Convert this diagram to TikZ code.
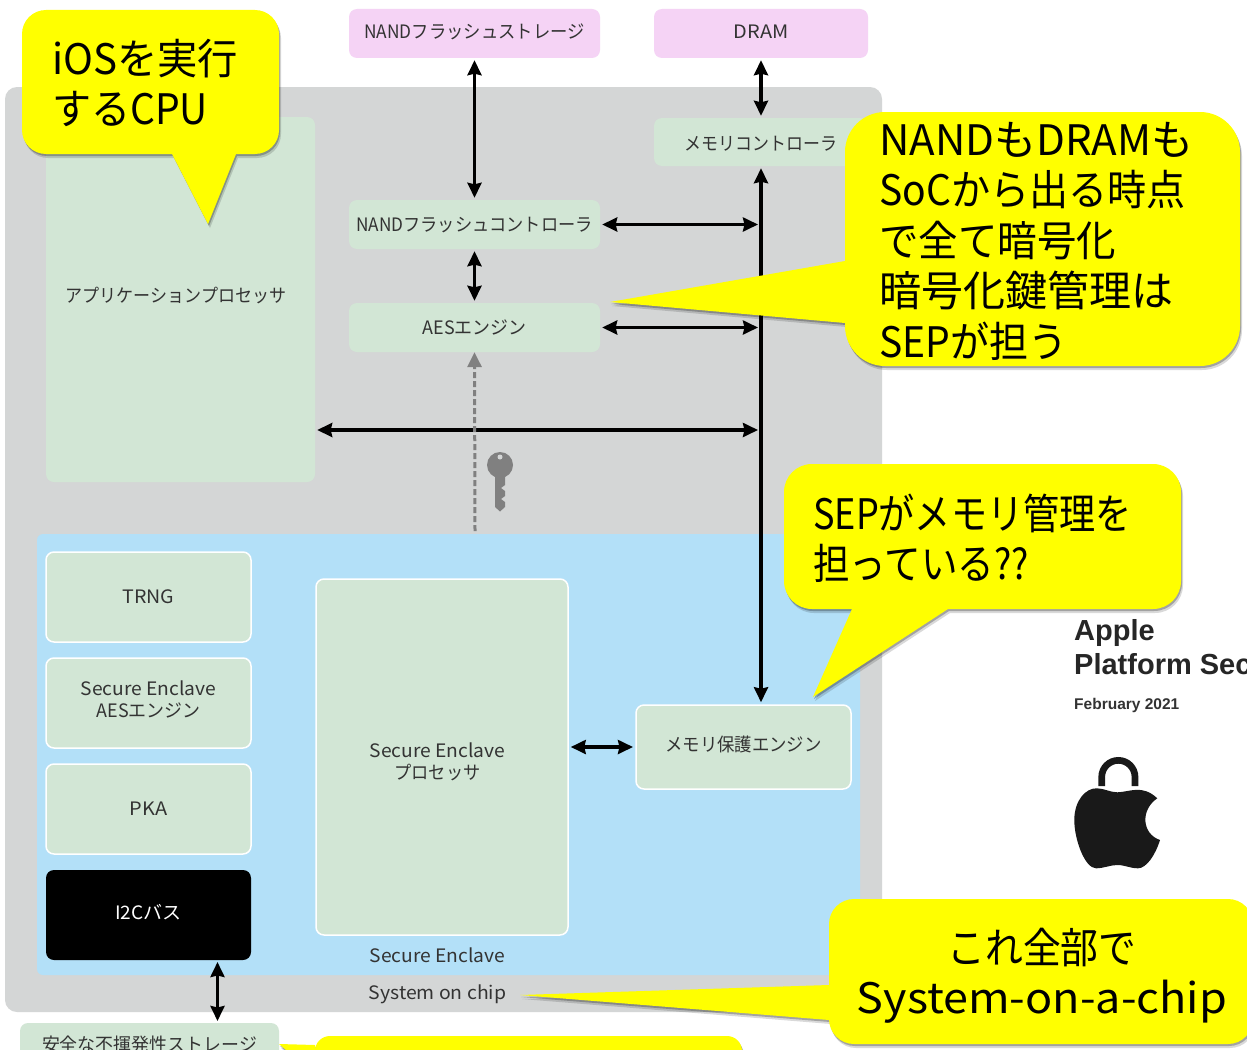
\documentclass[tikz,border=0pt]{standalone}
\usepackage{fontspec}
\usepackage{graphicx}
\setmainfont{Noto Sans CJK JP}
\newfontfamily\titlefont{Liberation Sans}
\usetikzlibrary{arrows.meta,shadows}
\definecolor{socgray}{HTML}{D4D6D6}
\definecolor{boxgreen}{HTML}{D2E6D5}
\definecolor{boxpink}{HTML}{F5D3F5}
\definecolor{seblue}{HTML}{B3E0F8}
\definecolor{keygray}{HTML}{808080}
\definecolor{labelgray}{HTML}{333333}
\definecolor{noteyellow}{HTML}{FFFF00}
\newcommand{\fitline}[2]{\scalebox{#1}[1]{#2}}
\tikzset{
   box text/.style={inner sep=0,align=center,text=labelgray,
      font=\fontsize{18.5}{22}\selectfont},
   label box/.style={box text,rounded corners=8},
   green box/.style={label box,fill=boxgreen},
   pink box/.style={label box,fill=boxpink},
   enclave box/.style={green box,draw=white,line width=1.5},
   link/.style={{Stealth[length=15,width=14,inset=1.5]}-{Stealth[length=15,width=14,inset=1.5]},
      line width=3.2,shorten >=2pt,shorten <=2pt},
   callout/.style={fill=noteyellow,
      drop shadow={shadow xshift=2,shadow yshift=4,opacity=.15,fill=black},
      drop shadow={shadow xshift=1,shadow yshift=2,opacity=.25,fill=black}},
   callout text/.style={inner sep=0,align=left,text=black,font=\fontsize{42}{50.5}\selectfont}
}
\begin{document}
\begin{tikzpicture}[x=1pt,y=-1pt]
   \useasboundingbox (0,0) rectangle (1247,1049);
   \clip (0,0) rectangle (1247,1049);
   \fill[white] (0,0) rectangle (1247,1049);

   \fill[socgray,rounded corners=12] (5,87) rectangle (882,1012);
   \fill[seblue,rounded corners=6] (37,534) rectangle (860,975);

   \node[pink box,minimum width=251,minimum height=49,
      label={[box text,yshift=2]center:\fitline{.936}{NANDフラッシュストレージ}}] (nandstore) at (474.5,33.5) {};
   \node[pink box,minimum width=214,minimum height=49,
      label={[box text,yshift=2]center:\fitline{1.08}{DRAM}}] (dram) at (761,33.5) {};
   \node[green box,minimum width=214,minimum height=48,
      label={[box text,yshift=-2]center:\fitline{.915}{メモリコントローラ}}] (memctrl) at (761,142) {};
   \node[green box,minimum width=269,minimum height=365,
      label={[box text,xshift=-4.5,yshift=4]center:\fitline{.92}{アプリケーションプロセッサ}}] (app) at (180.5,299.5) {};
   \node[green box,minimum width=251,minimum height=49,
      label={[box text,yshift=-1]center:\fitline{.93}{NANDフラッシュコントローラ}}] (nandctrl) at (474.5,224.5) {};
   \node[green box,minimum width=251,minimum height=49] (aes) at (474.5,327.5) {\fitline{.97}{AESエンジン}};

   \node[enclave box,minimum width=205,minimum height=90] (trng) at (148.5,597) {\fitline{1.06}{TRNG}};
   \node[enclave box,minimum width=205,minimum height=90,
      label={[box text,yshift=4]center:\fitline{1.04}{Secure Enclave}\\\fitline{.97}{AESエンジン}}] (seaes) at (148.5,703) {};
   \node[enclave box,minimum width=205,minimum height=90] (pka) at (148.5,809) {\fitline{1.08}{PKA}};
   \node[label box,fill=black,minimum width=205,minimum height=90,
      label={[box text,text=white,yshift=3]center:\fitline{1.03}{I2Cバス}}] (i2c) at (148.5,915) {};
   \node[enclave box,minimum width=252,minimum height=356,
      label={[box text,xshift=-4.5,yshift=-5]center:\fitline{1.04}{Secure Enclave}\\\fitline{.93}{プロセッサ}}] (seproc) at (442,757) {};
   \node[enclave box,minimum width=215,minimum height=84,
      label={[box text,yshift=3]center:\fitline{.94}{メモリ保護エンジン}}] (memprot) at (743.5,747) {};
   \node[green box,minimum width=259,minimum height=42] (store) at (149.5,1044) {\fitline{.97}{安全な不揮発性ストレージ}};

   \node[box text] (selabel) at (437.5,955) {\fitline{1.04}{Secure Enclave}};
   \node[box text] (soclabel) at (437.5,994) {\fitline{1.05}{System on chip}};

   \coordinate (busnand) at (760,224.5);
   \coordinate (busaes) at (760,327.5);
   \coordinate (busapp) at (760,430);
   \coordinate (keyfoot) at (475,531);
   \coordinate (i2cport) at (217.5,960);
   \coordinate (storeport) at (217.5,1023);
   \coordinate (protport) at (635,747);

   \draw[link] (nandstore) -- (nandctrl);
   \draw[link] (dram) -- (memctrl);
   \draw[link] (nandctrl) -- (aes);
   \draw[link] (memctrl.south) -- (memctrl.south |- memprot.north);
   \draw[link] (nandctrl) -- (busnand);
   \draw[link] (aes) -- (busaes);
   \draw[link] (app.east |- busapp) -- (busapp);
   \draw[link] (seproc.east |- protport) -- (protport);
   \draw[link] (i2cport) -- (storeport);
   \draw[keygray,line width=3,dash pattern=on 6pt off 3pt,
      -{Triangle[length=15,width=14]}] (keyfoot) -- (aes.south);

   \fill[keygray] (500,465) circle (13);
   \fill[keygray] (495,470) -- (495,507) -- (500,511.5) -- (505,507) -- (505,502) -- (501,499)
      -- (505,496) -- (505,491) -- (501,488) -- (505,485) -- (505,470) -- cycle;
   \fill[socgray] (500,457) circle (2.5);

   \node[anchor=west,inner sep=0,font=\titlefont\bfseries\fontsize{29}{34.5}\selectfont,align=left,text=black!85] (title) at (1074,650) {Apple\\Platform Security};
   \node[anchor=west,inner sep=0,font=\titlefont\bfseries\fontsize{15.5}{18}\selectfont,text=black!80] (date) at (1074,705) {February 2021};

   \draw[black!90,line width=6.7] (1101.7,786) -- (1101.7,777) arc(180:360:16.65) -- (1135,786);
   \fill[black!90] (1117.3,792.3)
      .. controls (1130,792) and (1142,784) .. (1157.3,798.3)
      .. controls (1140,810) and (1142,834) .. (1160,840)
      .. controls (1155,856) and (1146,868.3) .. (1138,868.3)
      .. controls (1130,868.3) and (1125,865) .. (1117.3,865)
      .. controls (1110,865) and (1104,868.3) .. (1096,868.3)
      .. controls (1085,868.3) and (1074.3,840) .. (1074.3,820)
      .. controls (1074.3,800) and (1086,788) .. (1096.7,788.3)
      .. controls (1104,788.3) and (1110,792.3) .. (1117.3,792.3) -- cycle;

   \path[callout,rounded corners=15] (500,1036) -- (742,1036) -- (742,1100) -- (315,1100)
      [sharp corners] -- (315,1075) -- (279,1044) -- (315,1045) [rounded corners=15] -- (315,1036) -- cycle;

   \path[callout,rounded corners=24] (150,10) -- (22,10) -- (22,154) [sharp corners] -- (172,154) -- (208,224) -- (236,154)
      [rounded corners=24] -- (279,154) -- (279,10) -- cycle;
   \node[callout text,anchor=west] (cpunote) at (52,83) {\fitline{.96}{iOSを実行}\\\fitline{.93}{するCPU}};

   \path[callout,rounded corners=40] (1000,112) -- (1240,112) -- (1240,366) -- (845,366)
      [sharp corners] -- (845,323) -- (610,302) -- (845,261) [rounded corners=40] -- (845,112) -- cycle;
   \node[callout text,anchor=west] (nandnote) at (879,241) {NANDもDRAMも\\\fitline{.93}{SoCから出る時点}\\\fitline{.94}{で全て暗号化}\\暗号化鍵管理は\\\fitline{.93}{SEPが担う}};

   \path[callout,rounded corners=28] (1000,464) -- (784,464) -- (784,609) [sharp corners] -- (852,609) -- (813,697) -- (948,609)
      [rounded corners=28] -- (1181,609) -- (1181,464) -- cycle;
   \node[callout text,anchor=west] (sepnote) at (813,538) {\fitline{.86}{SEPがメモリ管理を}\\\fitline{.87}{担っている??}};

   \path[callout,rounded corners=25] (1000,899) -- (1253,899) -- (1253,1044) -- (829,1044)
      [sharp corners] -- (829,1020) -- (520,995) -- (829,985) [rounded corners=25] -- (829,899) -- cycle;
   \node[callout text,align=center] (socnote) at (1042,975.5) {\fitline{.90}{これ全部で}\\\fitline{1.07}{System-on-a-chip}};
\end{tikzpicture}
\end{document}
